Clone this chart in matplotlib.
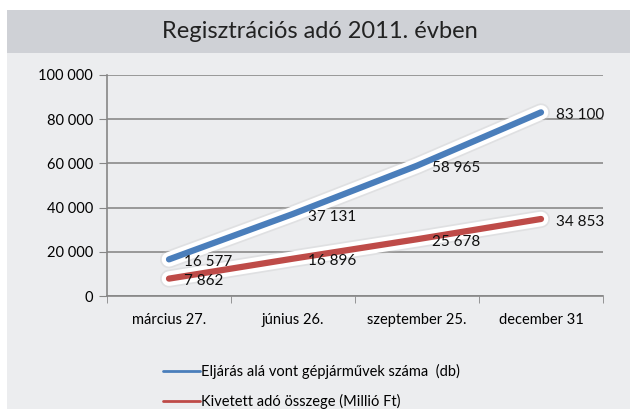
import numpy as np
import matplotlib
matplotlib.use("Agg")
import matplotlib.pyplot as plt
import matplotlib.patheffects as pe
from matplotlib import font_manager
from matplotlib.patches import Rectangle

# data
categories = ["március 27.", "június 26.", "szeptember 25.", "december 31"]
vehicles = [16577, 37131, 58965, 83100]
tax = [7862, 16896, 25678, 34853]
series_names = ["Eljárás alá vont gépjárművek száma  (db)",
                "Kivetett adó összege (Millió Ft)"]
title = "Regisztrációs adó 2011. évben"
yticks = [0, 20000, 40000, 60000, 80000, 100000]


def fmt(v):
    return f"{v:,}".replace(",", " ")


names = {f.name for f in font_manager.fontManager.ttflist}
body_font = "Lato" if "Lato" in names else "DejaVu Sans"
plt.rcParams["font.family"] = [body_font, "DejaVu Sans"]

fig = plt.figure(figsize=(6.3, 4.09), dpi=100)
fig.patch.set_facecolor("white")

# panel and title bar
fig.patches.append(Rectangle((7 / 630, 0), 1, 1 - 53 / 409, transform=fig.transFigure,
                             facecolor="#ecedef", edgecolor="none", zorder=-2))
fig.patches.append(Rectangle((7 / 630, 1 - 53 / 409), 1, 43 / 409, transform=fig.transFigure,
                             facecolor="#cfd1d6", edgecolor="none", zorder=-2))
fig.text(320 / 630, 1 - 32 / 409, title, ha="center", va="center",
         fontsize=17, color="#222222")

ax = fig.add_axes([107 / 630, 1 - 296 / 409, 496 / 630, 221 / 409])
ax.set_facecolor("none")
x = np.arange(len(categories))
ax.set_xlim(-0.5, len(categories) - 0.5)
ax.set_ylim(0, 100000)

ax.set_yticks(yticks)
ax.set_yticklabels([fmt(v) for v in yticks], fontsize=10.5)
ax.set_xticks(x)
ax.set_xticklabels(categories, fontsize=10.5)
ax.set_xticks(np.arange(len(categories) + 1) - 0.5, minor=True)
ax.tick_params(axis="x", which="major", length=0, pad=12)
ax.tick_params(axis="x", which="minor", length=5, color="#868686")
ax.tick_params(axis="y", length=6, color="#868686", pad=4)
ax.grid(axis="y", color="#8a8a8a", lw=1.2)
ax.set_axisbelow(True)
for s in ["top", "right"]:
    ax.spines[s].set_visible(False)
for s in ["left", "bottom"]:
    ax.spines[s].set_color("#868686")
    ax.spines[s].set_linewidth(1.2)

glow = [pe.Stroke(linewidth=13, foreground="#c4c4c4", alpha=0.3),
        pe.Stroke(linewidth=10.5, foreground="white"),
        pe.Normal()]
colors = ["#4a7ebb", "#be4b48"]
for vals, c, name in zip([vehicles, tax], colors, series_names):
    ax.plot(x, vals, color=c, lw=4.5, solid_capstyle="round", label=name,
            path_effects=glow, zorder=3)
    for xi, v in zip(x, vals):
        ax.annotate(fmt(v), (xi, v), xytext=(11, -2), textcoords="offset points",
                    ha="left", va="center", fontsize=11, color="#111111", zorder=4)

handles, labels = ax.get_legend_handles_labels()
leg = fig.legend(handles, labels, loc="upper left",
                 bbox_to_anchor=(150 / 630, 1 - 351 / 409), frameon=False,
                 fontsize=10.5, handlelength=2.5, handletextpad=0.1, labelspacing=1.0)
for line in leg.get_lines():
    line.set_linewidth(2.0)
    line.set_path_effects([])

fig.savefig("out.png", dpi=100, facecolor=fig.get_facecolor())
plt.close()
